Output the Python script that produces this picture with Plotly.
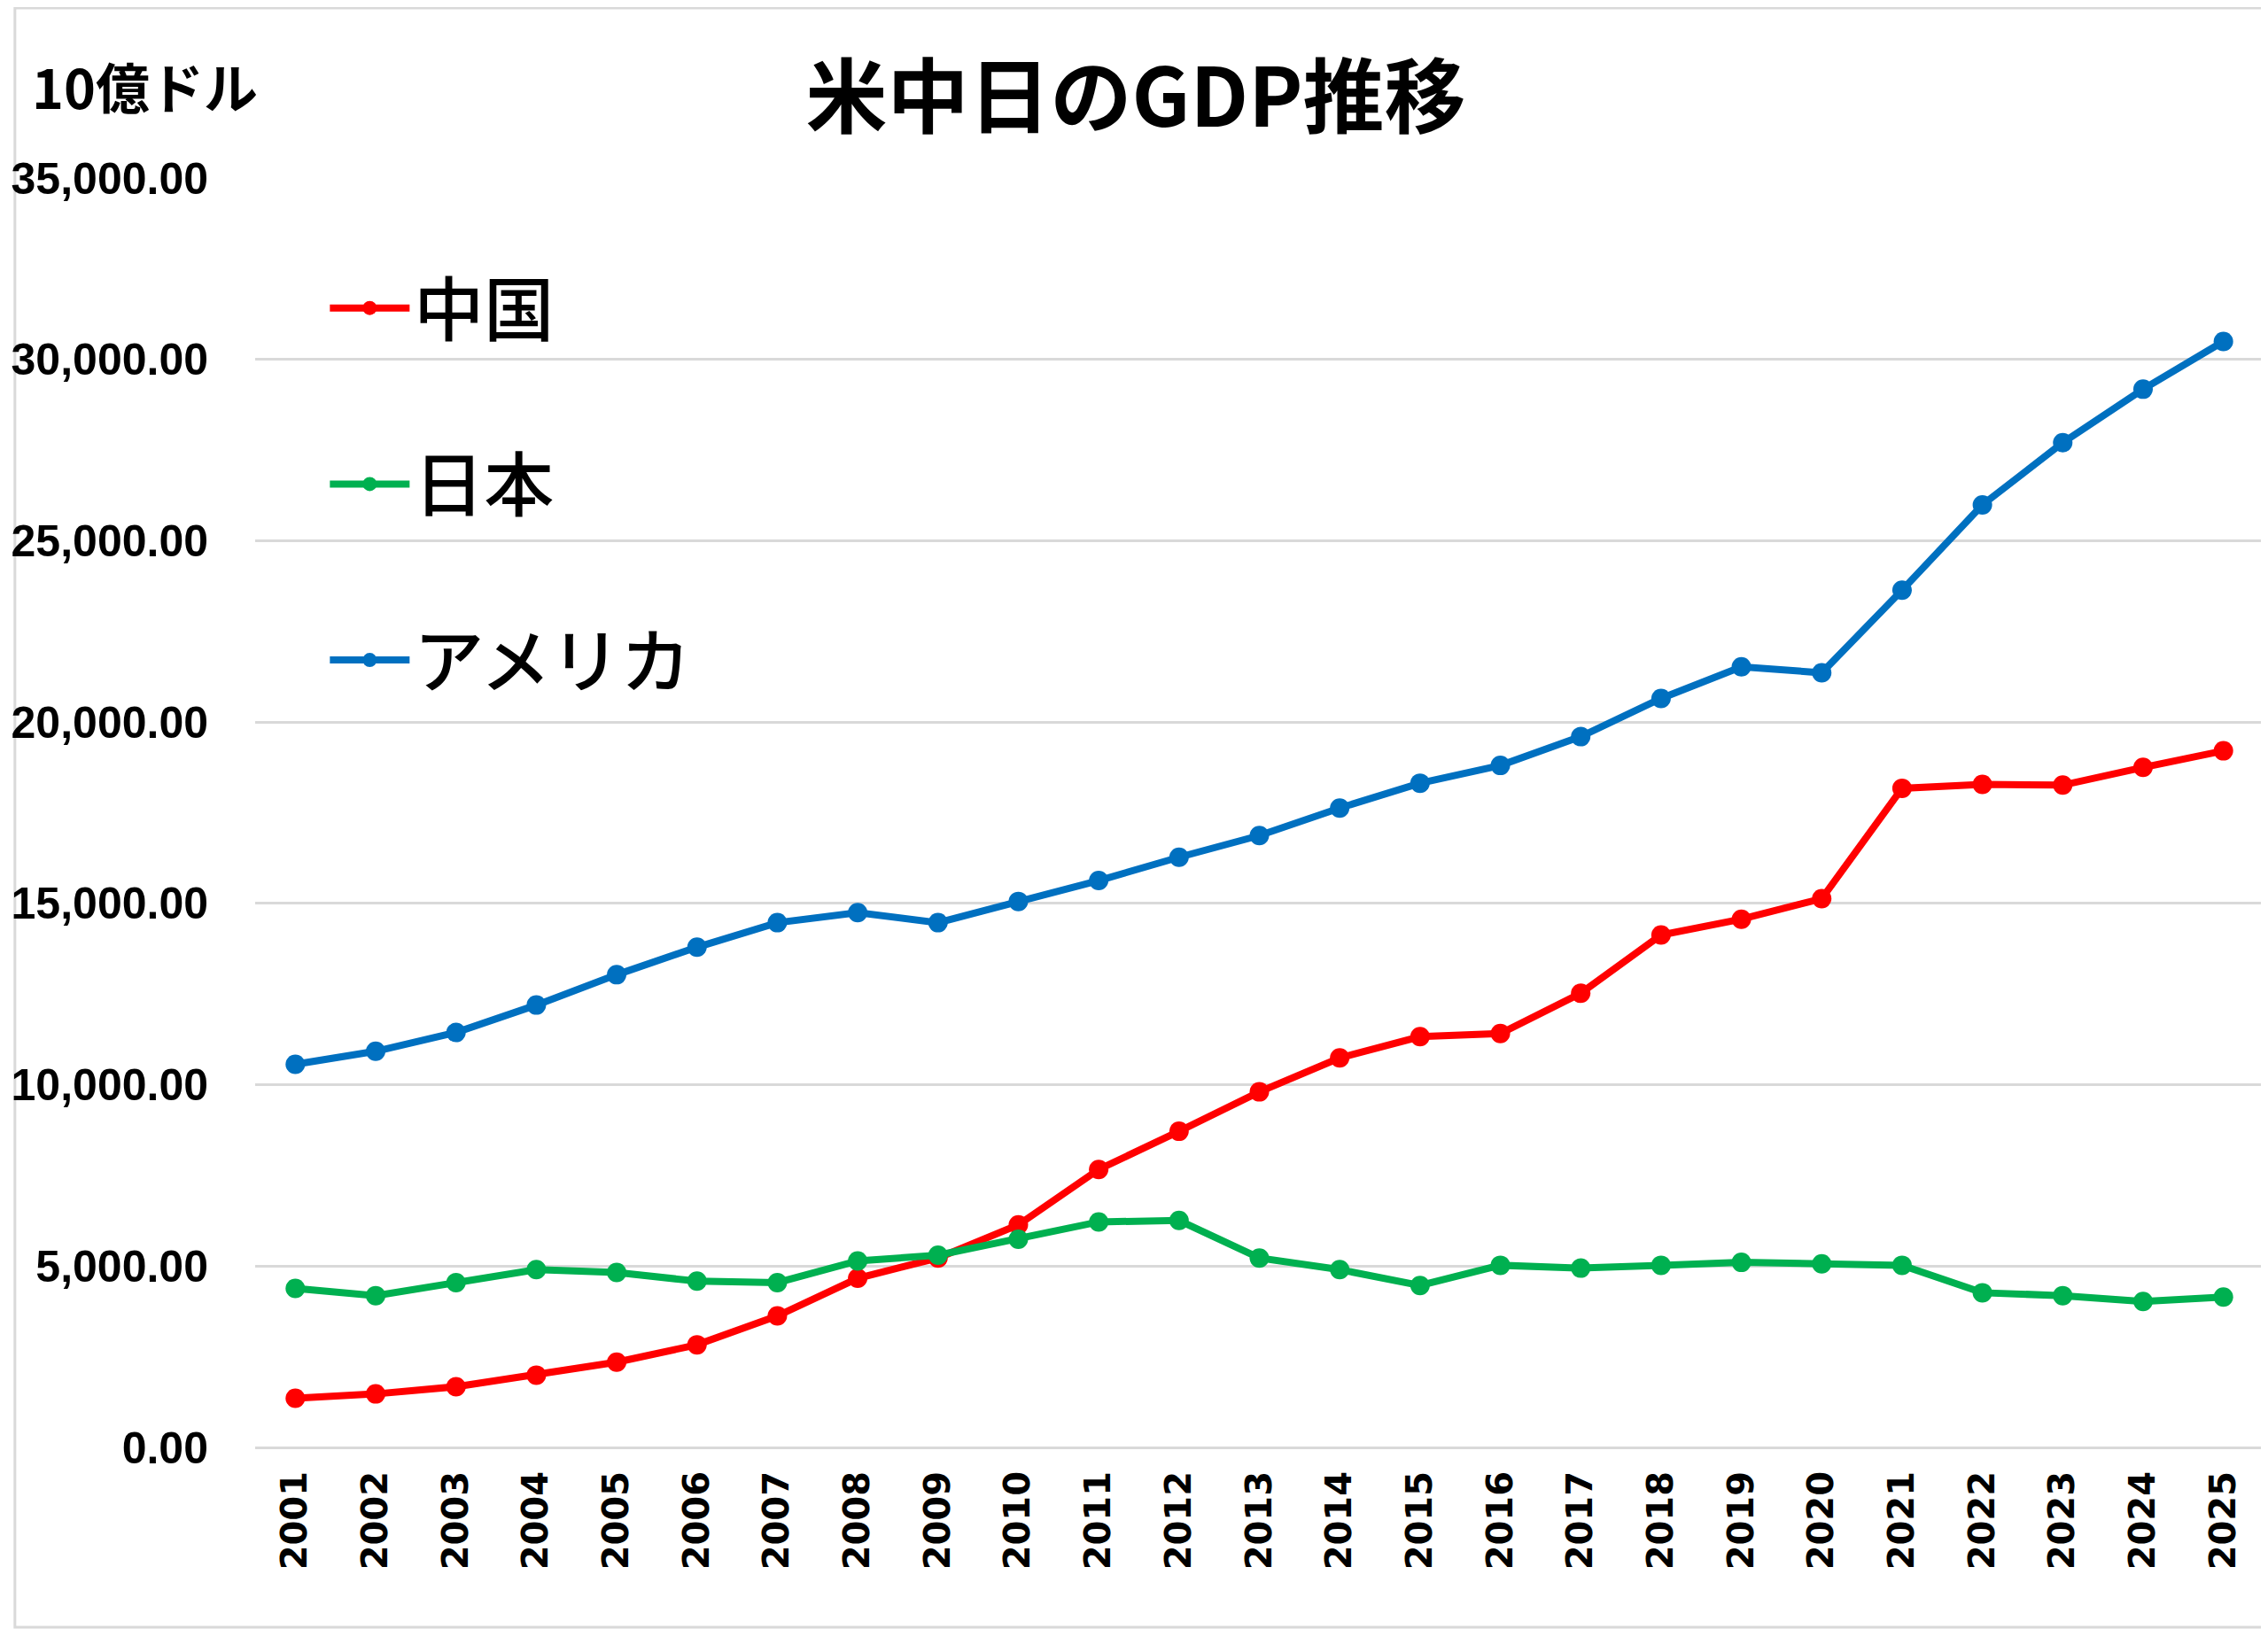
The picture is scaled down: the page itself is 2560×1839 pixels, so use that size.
import plotly.graph_objects as go

# 米中日のGDP推移 (10億ドル)
years = [str(y) for y in range(2001, 2026)]

china = [1355, 1475, 1674, 1993, 2352, 2830, 3627, 4664, 5222, 6138,
         7663, 8717, 9804, 10739, 11326, 11413, 12522, 14130, 14565, 15130,
         18174, 18283, 18261, 18750, 19207]

japan = [4385, 4185, 4544, 4903, 4823, 4584, 4544, 5142, 5301, 5740,
         6218, 6258, 5222, 4903, 4464, 5022, 4943, 5022, 5102, 5062,
         5022, 4265, 4185, 4026, 4145]

usa = [10563, 10922, 11440, 12197, 13034, 13792, 14469, 14748, 14469, 15054,
       15630, 16272, 16870, 17630, 18315, 18804, 19598, 20652, 21522, 21359,
       23637, 25989, 27703, 29178, 30493]

names = ["中国", "日本", "アメリカ"]
colors = ["#FF0000", "#00B050", "#0070C0"]

# the page body adds an 8px margin, so the figure is drawn 8px in
OFF = 8
W, H = 2560 - OFF, 1839 - OFF
L, R, T, B = 281 - OFF, 5, 201 - OFF, 205
PW, PH = W - L - R, H - T - B

jp_font = "Noto Sans CJK JP"

fig = go.Figure()
for name, vals, col in zip(names, [china, japan, usa], colors):
    fig.add_trace(go.Scatter(
        x=years, y=vals, name=name, mode="lines+markers",
        legendgroup=name,
        line=dict(color=col, width=8),
        marker=dict(color=col, size=22),
    ))

fig.update_layout(
    width=W, height=H,
    margin=dict(l=L, r=R, t=T, b=B),
    paper_bgcolor="white", plot_bgcolor="white",
    title=dict(text="<b>米中日のGDP推移</b>", xref="container",
               x=(1282 - OFF) / W, xanchor="center",
               y=1 - (111 - OFF) / H, yanchor="middle",
               font=dict(family=jp_font, size=92, color="black")),
    legend=dict(x=0.035, y=0.938, xanchor="left", yanchor="top",
                bgcolor="rgba(0,0,0,0)", tracegroupgap=93, itemwidth=90,
                font=dict(family=jp_font, size=79, color="black", weight=500)),
    showlegend=True,
)

fig.update_xaxes(type="category", range=[-0.5, 24.5], tickangle=-90,
                 showgrid=False, showline=False, ticks="",
                 ticklabelstandoff=18,
                 tickfont=dict(family="DejaVu Sans", size=40, color="black",
                               weight="bold"))
fig.update_yaxes(range=[0, 35000], dtick=5000, tickformat=",.2f",
                 showgrid=True, gridcolor="#D9D9D9", gridwidth=3,
                 zeroline=True, zerolinecolor="#D9D9D9", zerolinewidth=3,
                 showline=False, ticks="", ticklabelstandoff=52,
                 tickfont=dict(family="Liberation Sans", size=50, color="black",
                               weight="bold"))

# unit label above the y axis
fig.add_annotation(text="<b>10億ドル</b>", xref="paper", yref="paper",
                   x=(26 - OFF - L) / PW, y=1 + (T - (96 - OFF)) / PH,
                   xanchor="left", yanchor="middle", showarrow=False,
                   font=dict(family=jp_font, size=61, color="black"))

# light chart border
fig.add_shape(type="rect", xref="paper", yref="paper",
              x0=(1 - L) / PW, x1=1 + (R - 2) / PW,
              y0=-(B - 2) / PH, y1=1 + (T - 1) / PH,
              line=dict(color="#D9D9D9", width=3), fillcolor="rgba(0,0,0,0)",
              layer="below")

fig.write_html("out.html")
